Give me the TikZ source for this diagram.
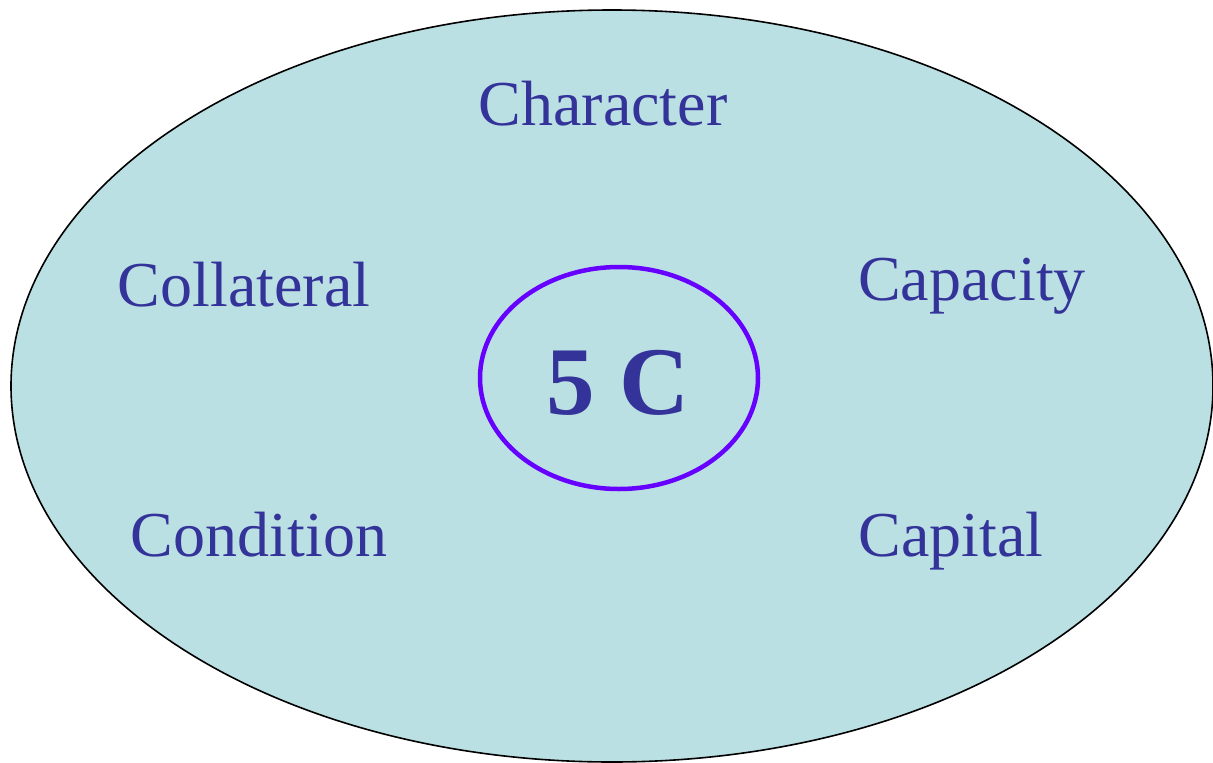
\documentclass[tikz,border=0pt]{standalone}
\usepackage{fontspec}
\setmainfont{Liberation Serif}
\definecolor{fillblue}{HTML}{BBE0E3}
\definecolor{txtblue}{HTML}{333399}
\definecolor{ringviolet}{HTML}{6600FF}
\begin{document}
\begin{tikzpicture}[x=1pt,y=-1pt,
  lbl/.style={anchor=base,text=txtblue,font=\fontsize{64}{64}\selectfont,inner sep=0pt}]
\useasboundingbox (0,0) rectangle (1213,763);
\draw[fill=fillblue,line width=1.6pt] (612,386) ellipse [x radius=601,y radius=376];
\draw[ringviolet,line width=4.5pt] (619,378) ellipse [x radius=139,y radius=111];
\node[lbl] (character) at (603,125) {Character};
\node[lbl] (collateral) at (244,306) {Collateral};
\node[lbl] (capacity) at (972,300) {Capacity};
\node[lbl] (condition) at (259,556) {Condition};
\node[lbl] (capital) at (951,556) {Capital};
\node[anchor=base,text=txtblue,font=\fontsize{97}{97}\selectfont\bfseries,inner sep=0pt] (fivec) at (618,414) {5 C};
\end{tikzpicture}
\end{document}
